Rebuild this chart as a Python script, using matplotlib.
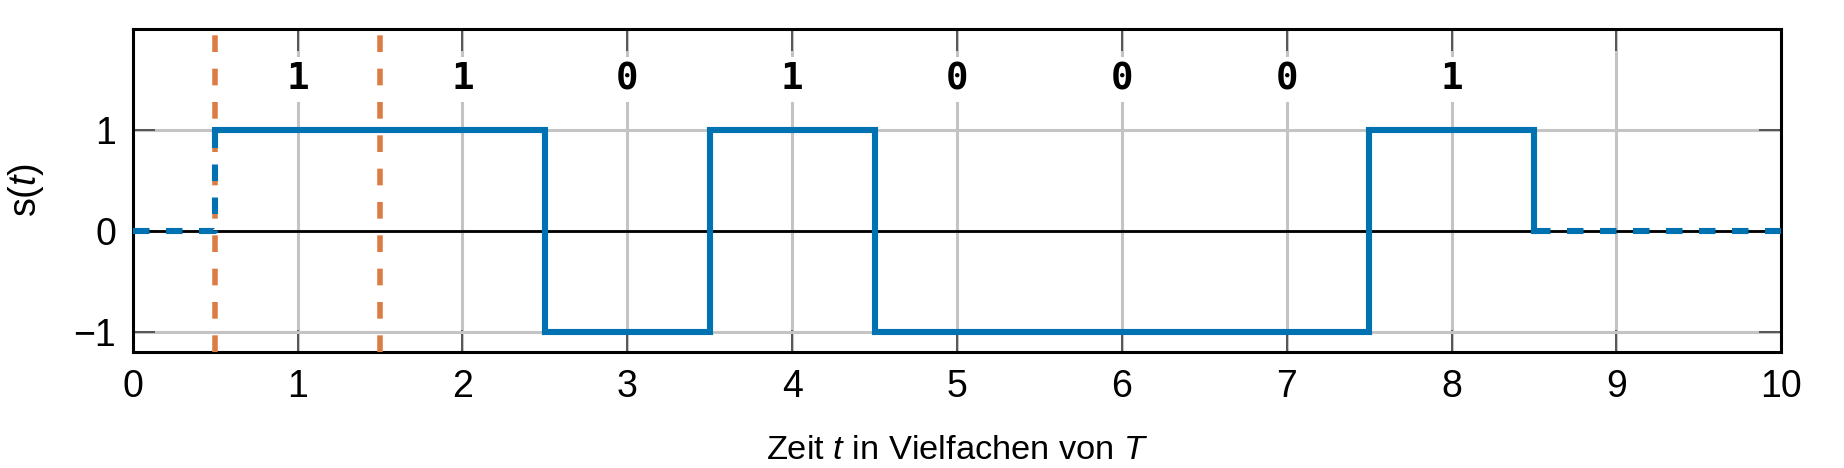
import numpy as np
import matplotlib
matplotlib.use("Agg")
import matplotlib.pyplot as plt

plt.rcParams['font.family'] = ['Liberation Sans', 'DejaVu Sans']
plt.rcParams['mathtext.fontset'] = 'custom'
plt.rcParams['mathtext.it'] = 'Liberation Sans:italic'
plt.rcParams['mathtext.rm'] = 'Liberation Sans'
plt.rcParams['font.size'] = 13

# data
bits = [1, 1, 0, 1, 0, 0, 0, 1]
bit_pos = [1, 2, 3, 4, 5, 6, 7, 8]
t_start = 0.5
T = 1.0
clock_lines = [0.5, 1.5]

blue = '#0072b2'
orange = '#dc7b44'

levels = [1 if b else -1 for b in bits]
edges = [t_start + i * T for i in range(len(bits) + 1)]
t_steps = np.repeat(edges, 2)[1:-1]
s_steps = np.repeat(levels, 2)
# closing edge back to zero
t_sig = np.concatenate([t_steps, [edges[-1]]])
s_sig = np.concatenate([s_steps, [0]])

fig, ax = plt.subplots(figsize=(9.22, 2.34), dpi=200)
fig.subplots_adjust(left=0.072, right=0.966, top=0.938, bottom=0.248)

ax.set_xlim(0, 10)
ax.set_ylim(-1.2, 2)
ax.set_xticks(range(0, 11))
ax.set_yticks([-1, 0, 1])
ax.grid(True, color='#c4c4c4', linewidth=1.1)
ax.set_axisbelow(True)
ax.tick_params(direction='in', length=8, width=0.7, color='#555555',
               top=True, right=True, labelsize=13.5, pad=6)
for sp in ax.spines.values():
    sp.set_linewidth(1.1)

ax.axhline(0, color='black', linewidth=1.0, zorder=2)

for xc in clock_lines:
    ax.axvline(xc, color=orange, linewidth=2.0, dashes=(3, 3), zorder=3)

# dashed leading and trailing parts
ax.plot([0, t_start, t_start], [0, 0, 1], color=blue, linewidth=2.2,
        dashes=(2.7, 2.7), zorder=4)
ax.plot([edges[-1], 10], [0, 0], color=blue, linewidth=2.2,
        dashes=(2.7, 2.7), zorder=4)
ax.plot(t_sig, s_sig, color=blue, linewidth=2.2, zorder=5,
        solid_joinstyle='miter')

for x, b in zip(bit_pos, bits):
    ax.text(x, 1.5, str(b), ha='center', va='center', fontsize=13.5,
            family='DejaVu Sans Mono', fontweight='bold',
            bbox=dict(facecolor='white', edgecolor='none', pad=1.5), zorder=3)

ax.set_xlabel('Zeit $t$ in Vielfachen von $T$', fontsize=12.4, labelpad=11)
ax.set_ylabel('s($t$)', fontsize=13.5, labelpad=10)

fig.savefig('out.png', dpi=200)
